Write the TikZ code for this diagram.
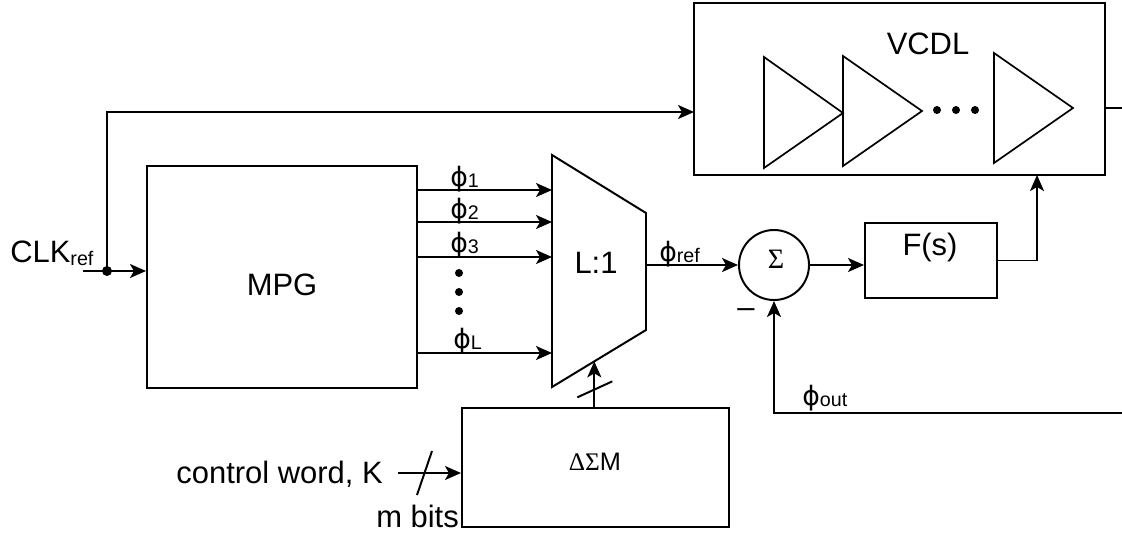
\documentclass[tikz,border=0pt]{standalone}
\usepackage{fontspec}
\setmainfont{Liberation Sans}
\newfontfamily\symfont{Liberation Serif}
\newfontfamily\phifont{DejaVu Sans}
\usetikzlibrary{arrows.meta,positioning,calc}
\newcommand{\lowsub}[1]{\raisebox{-0.2ex}{\fontsize{14}{16}\selectfont #1}}
\newcommand{\phase}[1]{{\phifont\fontsize{19}{22}\selectfont ϕ}\lowsub{#1}}
\tikzset{
  block/.style={rectangle, draw=black, line width=1.4pt, inner sep=0pt},
  arrow/.style={-{Stealth[length=4mm, width=3.5mm, inset=1mm]}, line width=1.4pt},
  wire/.style={line width=1.4pt},
  bufshape/.style={line width=1.2pt},
  txt/.style={font=\fontsize{22}{24}\selectfont, inner sep=0pt, anchor=base},
  phaselbl/.style={inner sep=0pt, anchor=base west},
  symtxt/.style={inner sep=0pt, anchor=base},
}

\begin{document}
\begin{tikzpicture}[x=0.025cm, y=-0.025cm]
\useasboundingbox (0,0) rectangle (1122,533);

% delay line
\node[block, minimum width=10.275cm, minimum height=4.3cm] (vcdl) at (899.5,89) {};
\node[txt] (vcdl-name) at (928,54) {VCDL};
\foreach \xa/\ya/\yb/\xb/\ym in {764/57/168/843/113, 843/56/166/922/111, 994/53/163/1073/108}
  \draw[bufshape] (\xa,\ya) -- (\xa,\yb) -- (\xb,\ym) -- cycle;
\foreach \x in {937,956,975}
  \fill (\x,110) circle[radius=4];
\coordinate (vcdl-in) at (694,112);
\coordinate (vcdl-ctrl) at (1037,175);
\coordinate (vcdl-out) at (1105,108);
\coordinate (out-end) at (1122,108);

% phase generator
\node[block, minimum width=6.75cm, minimum height=5.55cm] (mpg) at (282,277) {};
\node[txt] (mpg-name) at (282,295) {MPG};
\node[txt, anchor=base west] (clk) at (10,262) {CLK\lowsub{ref}};
\coordinate (clk-in) at (83,271);
\coordinate (clk-split) at (107,271);

% multiplexer
\coordinate (mux-tl) at (552,155);
\coordinate (mux-tr) at (646,213);
\coordinate (mux-br) at (646,330);
\coordinate (mux-bl) at (552,387);
\draw[wire] (mux-tl) -- (mux-tr) -- (mux-br) -- (mux-bl) -- cycle;
\node[txt] (mux) at (596,273) {L:1};
\coordinate (mux-out) at (646,265);
\coordinate (mux-sel) at ($(mux-bl)!0.45!(mux-br)$);

% loop
\node[circle, draw, line width=1.4pt, minimum size=1.75cm, inner sep=0pt] (sum) at (774,265) {};
\node[symtxt, font=\symfont\fontsize{20}{22}\selectfont] (sum-sign) at (776,268) {Σ};
\node[block, minimum width=3.3cm, minimum height=1.875cm] (filter) at (931,260.5) {};
\node[txt] (filter-name) at (930,255) {F(s)};
\node[txt, anchor=center] (minus) at (746,313) {–};
\coordinate (fb-start) at (1122,413);

% modulator
\node[block, minimum width=6.675cm, minimum height=2.975cm] (dsm) at (595.5,467.5) {};
\node[symtxt] (dsm-name) at (595,470) {{\symfont\fontsize{18}{20}\selectfont ΔΣ}{\fontsize{18}{20}\selectfont M}};
\node[txt, anchor=base east] (ctrl) at (383,483) {control word, K};
\node[txt, anchor=base west] (bits) at (376,527) {m bits};
\coordinate (ctrl-in) at (398,473);

% phases
\foreach \n/\y in {1/190, 2/222, 3/257, L/353} {
  \coordinate (mux-in-\n) at (552,\y);
  \draw[arrow] (mpg.east |- mux-in-\n) -- (mux-in-\n);
}
\node[phaselbl] (ph-1) at (450,186) {\phase{1}};
\node[phaselbl] (ph-2) at (450,218) {\phase{2}};
\node[phaselbl] (ph-3) at (450,252) {\phase{3}};
\node[phaselbl] (ph-L) at (453,348) {\phase{L}};
\foreach \y in {273,292,311}
  \fill (459,\y) circle[radius=4];

% connections
\draw[arrow] (clk-in) -- (clk-in -| mpg.west);
\fill (clk-split) circle[radius=5];
\draw[arrow] (clk-split) |- (vcdl-in);
\draw[arrow] (mux-out) -- (sum.west);
\node[phaselbl] (ph-ref) at (659,261) {\phase{ref}};
\draw[arrow] (sum.east) -- (sum.east -| filter.west);
\draw[arrow] (filter.east) -| (vcdl-ctrl);
\draw[wire] (vcdl-out) -- (out-end);
\draw[arrow] (fb-start) -| (sum.south);
\node[phaselbl] (ph-out) at (802,405) {\phase{out}};
\draw[arrow] (dsm.north -| mux-sel) -- (mux-sel);
\draw[wire] ($(mux-sel)+(-17,36)$) -- ++(35,-16);
\draw[arrow] (ctrl-in) -- (ctrl-in -| dsm.west);
\draw[wire] (417,495) -- (432,451);
\end{tikzpicture}
\end{document}
